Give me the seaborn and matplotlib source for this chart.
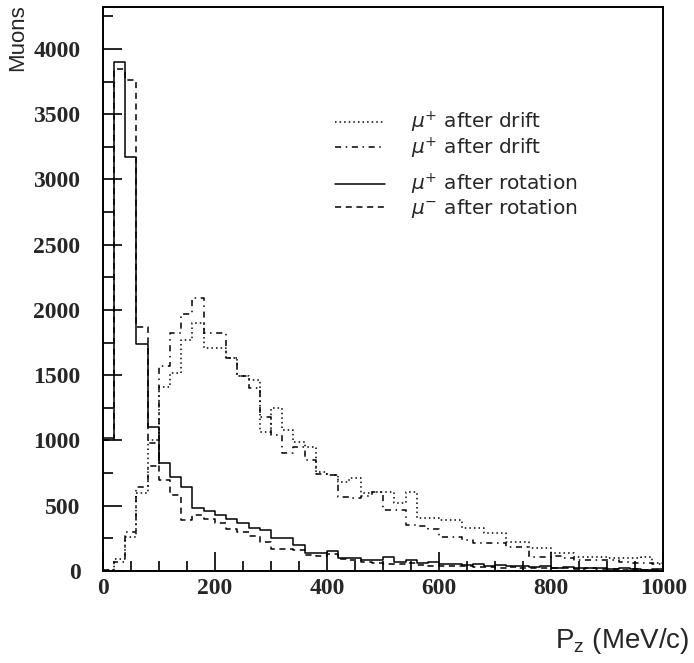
import numpy as np
import pandas as pd
import matplotlib
matplotlib.use("Agg")
import matplotlib.pyplot as plt
import seaborn as sns
from matplotlib.lines import Line2D
from matplotlib.ticker import MultipleLocator

# Pz histogram, 20 MeV/c bins from 0 to 1000
bin_centers = np.arange(10, 1000, 20)

mu_plus_drift_dot = [10, 90, 260, 600, 1000, 1410, 1520, 1770, 1900, 1710,
                     1710, 1633, 1490, 1465, 1066, 1250, 1080, 990, 950, 760,
                     736, 680, 713, 598, 605, 605, 520, 605, 406, 406,
                     390, 390, 330, 330, 290, 290, 222, 222, 176, 176,
                     138, 138, 107, 107, 107, 100, 100, 100, 107, 60]
mu_plus_drift_dashdot = [10, 70, 300, 644, 800, 1570, 1820, 1970, 2090, 1825,
                         1825, 1633, 1490, 1400, 1180, 1043, 905, 950, 850, 740,
                         736, 567, 560, 575, 605, 468, 470, 353, 345, 320,
                         260, 260, 240, 215, 215, 215, 184, 184, 107, 107,
                         110, 100, 84, 84, 84, 84, 70, 60, 60, 50]
mu_plus_rot = [1020, 3900, 3175, 1740, 1100, 830, 720, 644, 483, 460,
               430, 400, 370, 330, 314, 253, 253, 200, 138, 138,
               153, 100, 100, 84, 84, 107, 69, 80, 60, 70,
               55, 50, 45, 50, 40, 45, 35, 40, 30, 35,
               25, 30, 20, 25, 20, 15, 20, 15, 10, 15]
mu_minus_rot = [1000, 3850, 3760, 1870, 980, 698, 583, 391, 430, 400,
                370, 320, 300, 270, 222, 170, 170, 160, 120, 110,
                130, 90, 80, 70, 60, 50, 55, 60, 45, 40,
                40, 35, 35, 30, 30, 25, 30, 25, 20, 20,
                25, 20, 15, 20, 15, 15, 10, 15, 10, 10]

labels = [r"$\mu^{+}$ after drift", r"$\mu^{+}$ after drift",
          r"$\mu^{+}$ after rotation", r"$\mu^{-}$ after rotation"]
styles = [(0, (1, 2)), (0, (4, 3, 1, 3)), "-", (0, (4, 3))]

sns.set_style("ticks")
plt.rcParams['font.family'] = ['DejaVu Sans']

fig = plt.figure(figsize=(6.94, 6.63), dpi=100)
ax = fig.add_axes([0.148, 0.139, 0.808, 0.850])

series = [mu_plus_drift_dot, mu_plus_drift_dashdot, mu_plus_rot, mu_minus_rot]
for vals, ls in zip(series, styles):
    df = pd.DataFrame({"pz": bin_centers, "count": vals})
    sns.histplot(data=df, x="pz", weights="count", binwidth=20, binrange=(0, 1000),
                 element="step", fill=False, color="black", linestyle=ls,
                 linewidth=1.1, ax=ax)

ax.set_xlim(0, 1000)
ax.set_ylim(0, 4320)
ax.set_xlabel("")
ax.set_ylabel("")

ax.xaxis.set_major_locator(MultipleLocator(200))
ax.xaxis.set_minor_locator(MultipleLocator(50))
ax.yaxis.set_major_locator(MultipleLocator(500))
ax.yaxis.set_minor_locator(MultipleLocator(250))
ax.tick_params(which="both", direction="in", top=False, right=False, width=1.2, color="black")
ax.tick_params(which="major", length=14)
ax.tick_params(which="minor", length=7)
ax.tick_params(axis="y", which="major", pad=16)
ax.tick_params(axis="x", which="major", pad=5)
for lab in ax.get_xticklabels() + ax.get_yticklabels():
    lab.set_fontfamily("Liberation Serif")
    lab.set_fontweight("bold")
    lab.set_fontsize(17)
for sp in ax.spines.values():
    sp.set_visible(True)
    sp.set_linewidth(1.4)
    sp.set_color("black")

# two legend groups, drift on top, rotation below
h = [Line2D([], [], color="black", linestyle=ls, linewidth=1.1) for ls in styles]
leg_kw = dict(loc="upper left", frameon=False, fontsize=14.5, handlelength=2.5,
              handletextpad=1.25, labelspacing=0.0, borderaxespad=0)
leg1 = ax.legend(h[:2], labels[:2], bbox_to_anchor=(0.40, 0.832), **leg_kw)
ax.add_artist(leg1)
ax.legend(h[2:], labels[2:], bbox_to_anchor=(0.40, 0.722), **leg_kw)

fig.text(0.025, 0.993, "Muons", rotation=90, ha="center", va="top",
         fontsize=16, family="Liberation Sans")
fig.text(0.993, 0.022, r"$\mathregular{P_z}$ (MeV/c)", ha="right", va="baseline",
         fontsize=20, family="Liberation Sans")

fig.savefig("out.png", dpi=100)
